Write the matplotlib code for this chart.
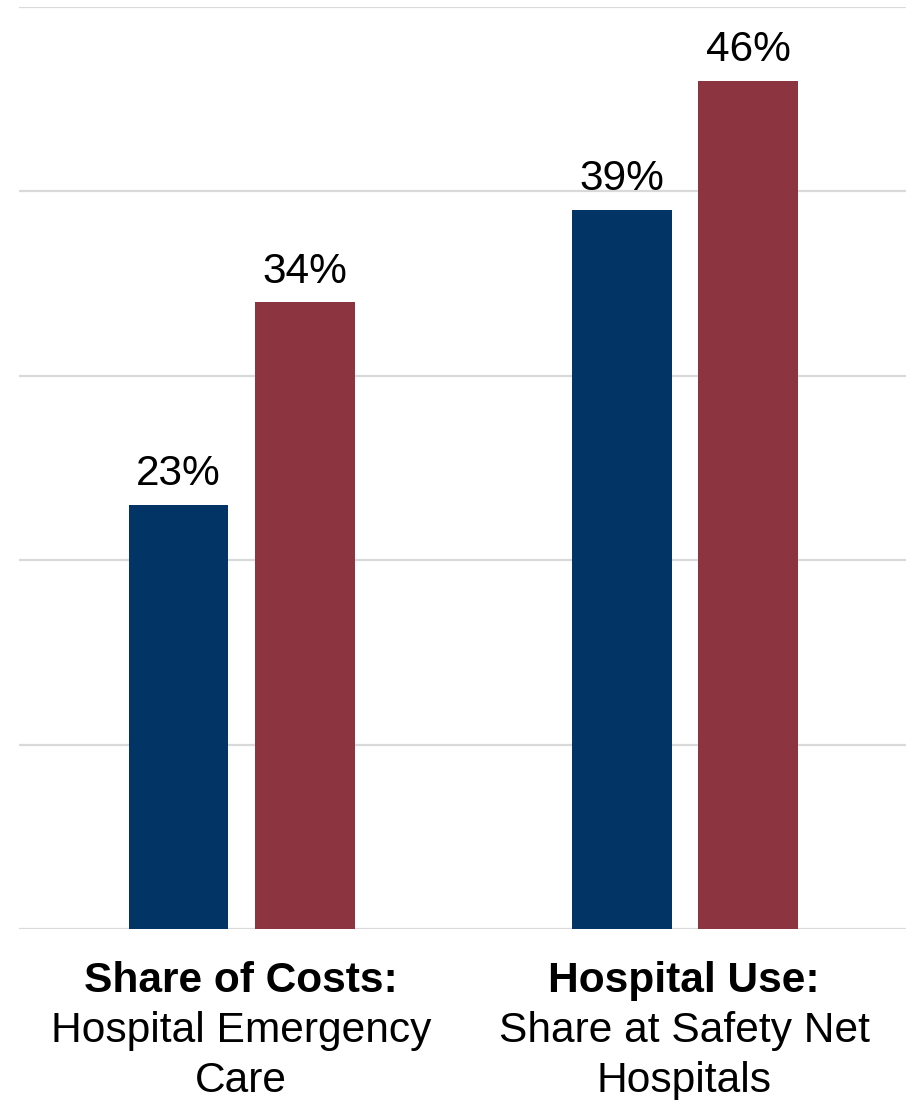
import matplotlib.pyplot as plt
import numpy as np

plt.rcParams['font.family'] = ['Liberation Sans', 'DejaVu Sans']

# data
groups = ['Share of Costs:', 'Hospital Use:']
subtitles = [['Hospital Emergency', 'Care'], ['Share at Safety Net', 'Hospitals']]
first_series = [23, 39]
second_series = [34, 46]
colors = ['#023466', '#8c3540']

fig = plt.figure(figsize=(9.06, 11), dpi=100)
ax = fig.add_axes([19 / 906, 171 / 1100, 1 - 19 / 906, 922 / 1100])

x = np.arange(len(groups))
width = 0.225
offset = 0.1423

for vals, dx, col in [(first_series, -offset, colors[0]), (second_series, offset, colors[1])]:
    bars = ax.bar(x + dx + 0.002, vals, width=width, color=col, zorder=3)
    for b, v in zip(bars, vals):
        ax.annotate(f'{v}%', (b.get_x() + b.get_width() / 2, v),
                    xytext=(0, 14), textcoords='offset points',
                    ha='center', va='baseline', fontsize=30.5)

ax.set_xlim(-0.5, 1.5)
ax.set_ylim(0, 50)
ax.set_yticks(np.arange(0, 51, 10))
ax.yaxis.grid(True, color='#d9d9d9', linewidth=1.6, zorder=0)
ax.tick_params(left=False, bottom=False, labelleft=False, labelbottom=False)
for s in ax.spines.values():
    s.set_visible(False)

# category labels: bold heading plus two plain lines
trans = ax.get_xaxis_transform()
for i, (head, sub) in enumerate(zip(groups, subtitles)):
    ax.annotate(head, (i, 0), xycoords=trans, xytext=(0, -45.4),
                textcoords='offset points', ha='center', va='baseline',
                fontsize=30.6, fontweight='bold', annotation_clip=False)
    for j, line in enumerate(sub):
        ax.annotate(line, (i, 0), xycoords=trans, xytext=(0, -81.4 - 36 * j),
                    textcoords='offset points', ha='center', va='baseline',
                    fontsize=30.6, annotation_clip=False)

fig.savefig('out.png', dpi=100)
